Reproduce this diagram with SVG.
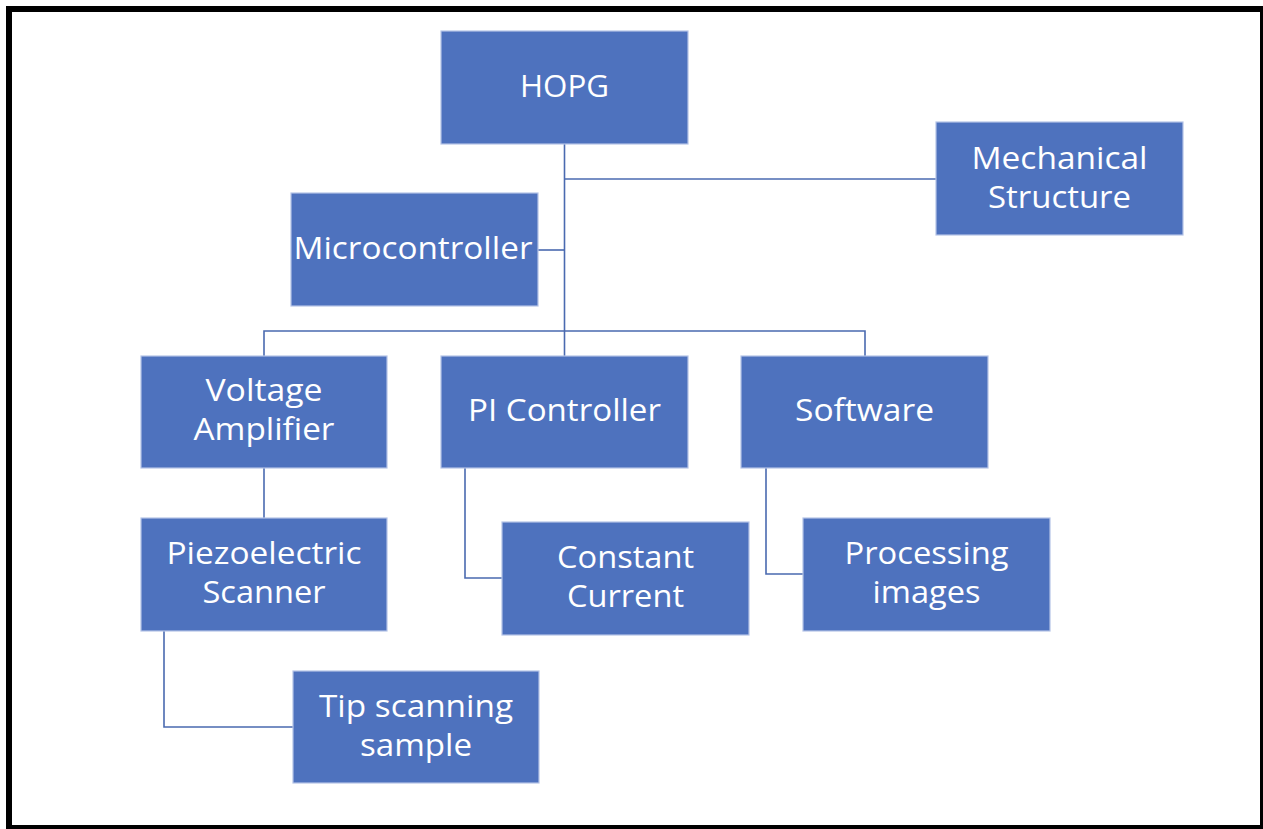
<svg xmlns="http://www.w3.org/2000/svg" width="1263" height="829" viewBox="0 0 1263 829">
<style>
.box{fill:#4E72BE;stroke:#B4C3E6;stroke-width:1.2}
.t{font-family:"Open Sans","Liberation Sans",sans-serif;font-size:31px;fill:#FFFFFF;text-anchor:middle}
.c{fill:none;stroke:#4A6AB0;stroke-width:1.6}
</style>
<rect x="0" y="0" width="1263" height="829" fill="#FFFFFF"/>
<rect x="9" y="9" width="1254" height="819" fill="none" stroke="#000000" stroke-width="6"/>
<g id="connectors">
<path class="c" d="M564.5 144 V356"/>
<path class="c" d="M564.5 179 H936"/>
<path class="c" d="M538 250 H564.5"/>
<path class="c" d="M264 356 V331 H865 V356"/>
<path class="c" d="M264 468 V518"/>
<path class="c" d="M465 468 V578 H502"/>
<path class="c" d="M766 468 V574 H803"/>
<path class="c" d="M164 631 V727 H293"/>
</g>
<g id="hopg">
<rect class="box" x="441" y="31" width="247" height="113"/>
<text class="t" x="564.5" y="97" textLength="89" lengthAdjust="spacingAndGlyphs">HOPG</text>
</g>
<g id="mechanical">
<rect class="box" x="936" y="122" width="247" height="113"/>
<text class="t" x="1059.5" y="169" textLength="176" lengthAdjust="spacingAndGlyphs">Mechanical</text>
<text class="t" x="1059.5" y="208" textLength="143" lengthAdjust="spacingAndGlyphs">Structure</text>
</g>
<g id="microcontroller">
<rect class="box" x="291" y="193" width="247" height="113"/>
<text class="t" x="413" y="259" textLength="239" lengthAdjust="spacingAndGlyphs">Microcontroller</text>
</g>
<g id="voltage">
<rect class="box" x="141" y="356" width="246" height="112"/>
<text class="t" x="264" y="401" textLength="117" lengthAdjust="spacingAndGlyphs">Voltage</text>
<text class="t" x="264" y="440" textLength="141" lengthAdjust="spacingAndGlyphs">Amplifier</text>
</g>
<g id="pi">
<rect class="box" x="441" y="356" width="247" height="112"/>
<text class="t" x="564.5" y="421" textLength="193" lengthAdjust="spacingAndGlyphs">PI Controller</text>
</g>
<g id="software">
<rect class="box" x="741" y="356" width="247" height="112"/>
<text class="t" x="864.5" y="421" textLength="139" lengthAdjust="spacingAndGlyphs">Software</text>
</g>
<g id="piezo">
<rect class="box" x="141" y="518" width="246" height="113"/>
<text class="t" x="264" y="564" textLength="195" lengthAdjust="spacingAndGlyphs">Piezoelectric</text>
<text class="t" x="264" y="603" textLength="123" lengthAdjust="spacingAndGlyphs">Scanner</text>
</g>
<g id="constant">
<rect class="box" x="502" y="522" width="247" height="113"/>
<text class="t" x="625.5" y="568" textLength="137" lengthAdjust="spacingAndGlyphs">Constant</text>
<text class="t" x="625.5" y="607" textLength="117" lengthAdjust="spacingAndGlyphs">Current</text>
</g>
<g id="processing">
<rect class="box" x="803" y="518" width="247" height="113"/>
<text class="t" x="926.5" y="564" textLength="164" lengthAdjust="spacingAndGlyphs">Processing</text>
<text class="t" x="926.5" y="603" textLength="108" lengthAdjust="spacingAndGlyphs">images</text>
</g>
<g id="tip">
<rect class="box" x="293" y="671" width="246" height="112"/>
<text class="t" x="416" y="717" textLength="194" lengthAdjust="spacingAndGlyphs">Tip scanning</text>
<text class="t" x="416" y="756" textLength="112" lengthAdjust="spacingAndGlyphs">sample</text>
</g>
</svg>
